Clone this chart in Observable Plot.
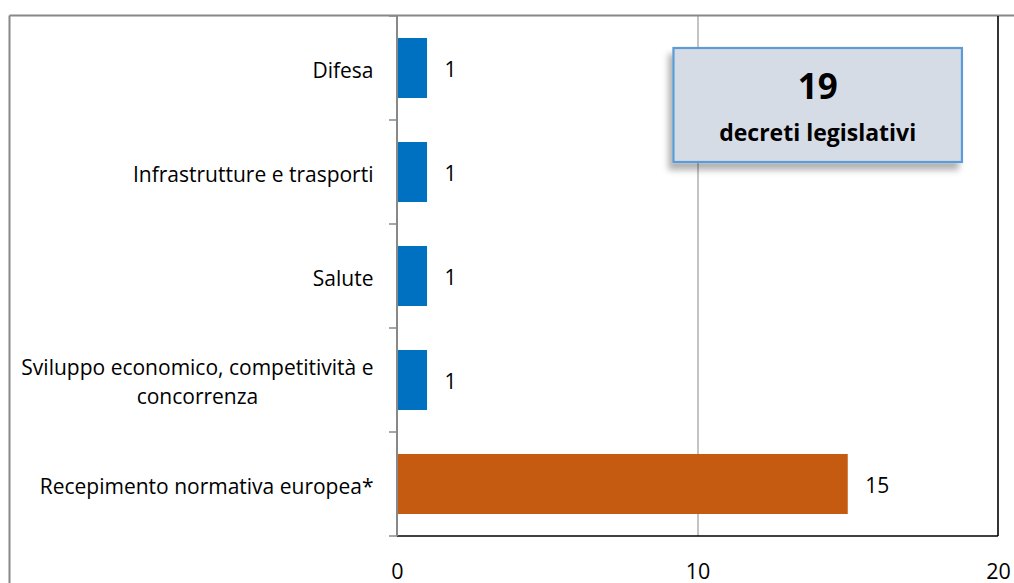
<!DOCTYPE html>
<html>
<head>
<meta charset="utf-8">
<script src="https://cdn.jsdelivr.net/npm/d3@7"></script>
<script src="https://cdn.jsdelivr.net/npm/@observablehq/plot@0.6"></script>
<style>
  html, body { margin: 0; padding: 0; background: #fff; }
  #chart svg { display: block; overflow: visible; }
</style>
</head>
<body>
<div id="chart"></div>
<script>
// ---- data ----
const categories = [
  "Difesa",
  "Infrastrutture e trasporti",
  "Salute",
  "Sviluppo economico, competitività e\nconcorrenza",
  "Recepimento normativa europea*"
];
const values = [1, 1, 1, 1, 15];
const groups = ["settore", "settore", "settore", "settore", "europa"];
const xTicks = [0, 10, 20];
const totalNumber = "19";
const totalCaption = "decreti legislativi";

const data = categories.map((c, i) => ({category: c, value: values[i], group: groups[i]}));

const FONT = "'Open Sans', sans-serif";

// decorative frame + band-boundary ticks + annotation box
function decorations(index, scales, vals, dims) {
  const {x, y} = scales;
  const g = d3.create("svg:g");
  const left = dims.marginLeft, right = dims.width - dims.marginRight;
  const top = dims.marginTop, bottom = dims.height - dims.marginBottom;
  // outer chart frame (top and left visible)
  g.append("line").attr("x1", 9.5).attr("x2", dims.width).attr("y1", top - 0.5).attr("y2", top - 0.5)
    .attr("stroke", "#888").attr("stroke-width", 2);
  g.append("line").attr("x1", 9.5).attr("x2", 9.5).attr("y1", top - 0.5).attr("y2", dims.height)
    .attr("stroke", "#888").attr("stroke-width", 2);
  // plot-area border: right and bottom black
  g.append("line").attr("x1", right).attr("x2", right).attr("y1", top).attr("y2", bottom)
    .attr("stroke", "#000").attr("stroke-width", 1.6);
  g.append("line").attr("x1", left).attr("x2", right).attr("y1", bottom).attr("y2", bottom)
    .attr("stroke", "#000").attr("stroke-width", 1.6);
  // left axis line
  g.append("line").attr("x1", left).attr("x2", left).attr("y1", top).attr("y2", bottom)
    .attr("stroke", "#888").attr("stroke-width", 2);
  // ticks at band boundaries
  const gap = (y.step() - y.bandwidth()) / 2;
  const bounds = categories.map(c => y(c) - gap);
  bounds.push(y(categories[categories.length - 1]) + y.bandwidth() + gap);
  for (const b of bounds) {
    g.append("line").attr("x1", left - 8).attr("x2", left).attr("y1", b).attr("y2", b)
      .attr("stroke", "#888").attr("stroke-width", 1.5);
  }
  // annotation box
  const defs = g.append("defs");
  const f = defs.append("filter").attr("id", "shadow").attr("x", "-20%").attr("y", "-20%").attr("width", "140%").attr("height", "160%");
  f.append("feDropShadow").attr("dx", -4).attr("dy", 7).attr("stdDeviation", 3)
    .attr("flood-color", "#000").attr("flood-opacity", 0.3);
  const bx1 = x(9.2), bx2 = x(18.8), by1 = top + 32, by2 = top + 146;
  g.append("rect").attr("x", bx1).attr("y", by1).attr("width", bx2 - bx1).attr("height", by2 - by1)
    .attr("fill", "#D6DCE5").attr("stroke", "#5B9BD5").attr("stroke-width", 2.2)
    .attr("filter", "url(#shadow)");
  const cx = (bx1 + bx2) / 2;
  g.append("text").attr("x", cx).attr("y", by1 + 51).attr("text-anchor", "middle")
    .attr("font-family", FONT).attr("font-weight", "bold").attr("font-size", 35).attr("fill", "#000")
    .text(totalNumber);
  g.append("text").attr("x", cx).attr("y", by1 + 93).attr("text-anchor", "middle")
    .attr("font-family", FONT).attr("font-weight", "bold").attr("font-size", 23).attr("fill", "#000")
    .text(totalCaption);
  return g.node();
}

const chart = Plot.plot({
  width: 1014,
  height: 583,
  marginLeft: 397,
  marginRight: 16,
  marginTop: 16,
  marginBottom: 47,
  style: {fontFamily: FONT, background: "#fff", color: "#000"},
  x: {domain: [0, 20], ticks: xTicks},
  y: {domain: categories, paddingInner: 0.423, paddingOuter: 0.2115},
  color: {domain: ["settore", "europa"], range: ["#0070C0", "#C55A11"]},
  marks: [
    Plot.ruleX([10], {stroke: "#888", strokeWidth: 1}),
    Plot.barX(data, {x: "value", y: "category", fill: "group"}),
    Plot.text(data, {x: "value", y: "category", text: d => String(d.value), dx: 17, dy: 1.5,
      textAnchor: "start", fontSize: 21, fill: "#000"}),
    Plot.axisX({ticks: xTicks, tickSize: 0, tickPadding: 27, fontSize: 21.5, label: null, fill: "#000"}),
    Plot.axisY({tickSize: 0, tickPadding: 24, fontSize: 21, label: null, lineHeight: 1.36, fill: "#000"}),
    decorations
  ]
});

document.getElementById("chart").appendChild(chart);

// center multi-line category labels within their own block (Excel style)
d3.select(chart).selectAll('g[aria-label="y-axis tick label"] text').each(function() {
  const tspans = this.querySelectorAll("tspan");
  if (tspans.length > 1) {
    let maxW = 0;
    tspans.forEach(t => { maxW = Math.max(maxW, t.getComputedTextLength()); });
    this.setAttribute("text-anchor", "middle");
    tspans.forEach(t => t.setAttribute("x", -maxW / 2));
  }
});
</script>
</body>
</html>
